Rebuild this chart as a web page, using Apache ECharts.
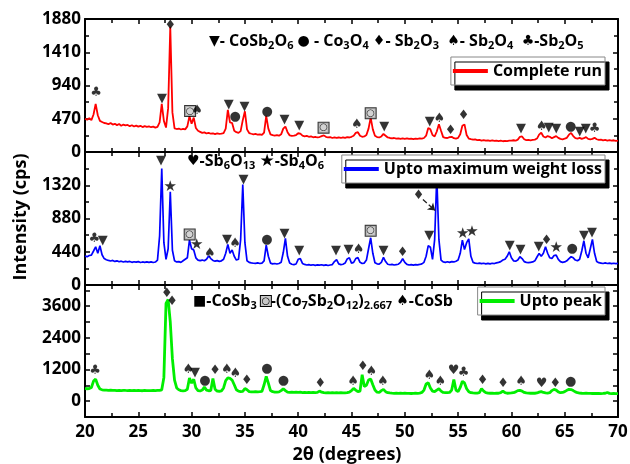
<!DOCTYPE html>
<html>
<head>
<meta charset="UTF-8">
<title>XRD patterns</title>
<script src="https://cdn.jsdelivr.net/npm/echarts@6/dist/echarts.min.js"></script>
<style>html,body{margin:0;padding:0;background:#fff;}</style>
</head>
<body>
<div id="main" style="width:630px;height:464px;"></div>
<script>
// 2theta sampling grid, 20 -> 70 deg every 0.2 deg
var twoTheta = [];
for (var i = 0; i <= 250; i++) twoTheta.push(+(20 + i * 0.2).toFixed(1));

// intensities (cps), one row = 2 degrees
var completeRun = [
  470, 455, 478, 450, 530, 680, 520, 440, 425, 410,
  405, 392, 410, 388, 398, 380, 395, 372, 388, 376,
  382, 365, 378, 360, 372, 358, 370, 352, 366, 355,
  362, 350, 358, 345, 356, 420, 680, 440, 345, 620,
  1770, 560, 335, 325, 332, 318, 328, 320, 362, 505,
  400, 486, 340, 300, 285, 270, 278, 262, 270, 258,
  265, 252, 262, 255, 260, 268, 330, 595, 420, 410,
  300, 280, 270, 295, 450, 575, 320, 268, 258, 250,
  255, 244, 250, 242, 275, 510, 330, 250, 238, 232,
  238, 230, 250, 330, 360, 280, 235, 228, 232, 240,
  265, 260, 232, 222, 228, 215, 220, 208, 215, 205,
  212, 225, 235, 215, 205, 212, 198, 208, 200, 205,
  198, 208, 200, 210, 205, 215, 230, 270, 280, 230,
  215, 220, 240, 330, 486, 320, 230, 212, 205, 220,
  255, 230, 205, 198, 192, 198, 188, 194, 185, 192,
  186, 192, 184, 190, 182, 190, 185, 192, 188, 198,
  230, 340, 320, 240, 220, 290, 392, 300, 210, 200,
  198, 210, 215, 195, 190, 200, 250, 370, 390, 240,
  190, 182, 175, 178, 168, 172, 162, 168, 160, 165,
  158, 164, 156, 162, 154, 160, 152, 158, 155, 162,
  160, 166, 160, 175, 215, 220, 180, 168, 172, 165,
  170, 175, 190, 245, 273, 220, 205, 225, 215, 195,
  210, 225, 200, 185, 180, 188, 200, 245, 270, 225,
  195, 190, 200, 185, 195, 210, 185, 178, 185, 200,
  180, 170, 175, 165, 170, 162, 168, 160, 166, 158,
  162
];
var maxWeightLoss = [
  383, 375, 390, 395, 450, 506, 420, 519, 400, 350,
  335, 325, 318, 325, 312, 320, 308, 315, 305, 312,
  306, 312, 300, 308, 302, 310, 298, 305, 300, 306,
  300, 306, 298, 304, 330, 650, 1541, 560, 340, 480,
  1233, 460, 320, 305, 310, 300, 320, 340, 360, 594,
  480, 462, 360, 330, 322, 330, 320, 340, 383, 350,
  325, 315, 322, 312, 320, 340, 420, 537, 420, 462,
  380, 330, 340, 600, 1330, 560, 320, 300, 292, 288,
  286, 292, 284, 290, 320, 528, 380, 290, 280, 285,
  278, 284, 300, 430, 617, 380, 290, 275, 270, 278,
  340, 350, 285, 272, 265, 270, 262, 268, 260, 266,
  262, 268, 260, 266, 258, 265, 270, 310, 335, 280,
  270, 275, 290, 345, 360, 290, 300, 350, 362, 300,
  285, 290, 330, 480, 625, 420, 295, 280, 275, 300,
  365, 310, 275, 268, 272, 265, 270, 275, 300, 348,
  300, 272, 265, 270, 264, 270, 266, 272, 280, 300,
  380, 520, 500, 340, 600, 1431, 600, 330, 305, 300,
  308, 300, 310, 305, 315, 330, 420, 594, 470, 560,
  610, 380, 300, 290, 285, 290, 282, 288, 280, 286,
  280, 288, 284, 292, 300, 310, 330, 340, 380, 440,
  360, 320, 315, 330, 374, 350, 310, 300, 295, 300,
  305, 320, 370, 418, 380, 420, 506, 420, 360, 350,
  390, 396, 340, 310, 300, 305, 320, 350, 374, 360,
  330, 320, 340, 450, 585, 420, 360, 480, 603, 420,
  310, 295, 290, 285, 292, 284, 290, 282, 288, 284,
  286
];
var uptoPeak = [
  483, 470, 478, 520, 760, 835, 600, 460, 430, 420,
  415, 408, 418, 405, 412, 400, 410, 402, 412, 405,
  400, 410, 402, 408, 398, 406, 400, 395, 404, 398,
  402, 396, 404, 398, 405, 410, 430, 900, 3700, 3850,
  3000, 1600, 800, 500, 430, 400, 392, 400, 450, 880,
  680, 830, 500, 400, 385, 420, 531, 420, 395, 400,
  854, 450, 380, 375, 390, 500, 780, 880, 860, 800,
  620, 430, 380, 365, 370, 480, 430, 360, 352, 348,
  360, 350, 358, 370, 620, 940, 680, 400, 360, 345,
  340, 352, 400, 472, 400, 345, 335, 342, 330, 338,
  330, 338, 326, 334, 324, 330, 320, 328, 322, 330,
  383, 340, 322, 316, 324, 315, 322, 314, 320, 312,
  318, 310, 316, 320, 340, 400, 483, 420, 360, 380,
  1003, 560, 600, 800, 843, 620, 420, 340, 330, 400,
  446, 360, 320, 310, 302, 298, 305, 296, 302, 294,
  300, 292, 298, 290, 296, 300, 294, 305, 330, 420,
  650, 694, 500, 380, 360, 420, 472, 380, 330, 320,
  325, 330, 420, 817, 420, 360, 520, 754, 690, 470,
  360, 320, 310, 302, 308, 320, 472, 380, 320, 305,
  300, 306, 298, 304, 300, 320, 383, 320, 300, 306,
  310, 320, 350, 400, 409, 380, 330, 310, 305, 300,
  305, 300, 310, 340, 360, 330, 310, 305, 320, 400,
  446, 420, 350, 320, 330, 360, 410, 446, 440, 400,
  350, 320, 305, 300, 296, 302, 294, 298, 290, 296,
  290, 296, 288, 292, 300, 330, 295, 286, 292, 288,
  286
];

// phase markers: [2theta, intensity, symbol]
var marks1 = [
  [21.03, 840, '♣'], [27.23, 760, '▼'], [28.0, 1785, '♦'], [29.86, 580, '◙'], [30.52, 580, '♠'],
  [33.49, 665, '▼'], [34.08, 495, '●'], [34.96, 637, '▼'], [37.09, 570, '●'], [38.72, 453, '▼'],
  [40.1, 378, '▼'], [42.38, 344, '◙'], [45.51, 382, '♠'], [46.8, 548, '◙'], [48.08, 358, '▼'],
  [52.33, 429, '▼'], [53.24, 477, '♠'], [54.3, 297, '♦'], [55.52, 510, '♦'], [60.9, 335, '▼'],
  [62.82, 358, '♠'], [63.5, 344, '▼'], [64.2, 335, '▼'], [65.57, 358, '●'], [66.4, 288, '▼'],
  [66.97, 335, '▼'], [67.8, 335, '♣']
];
var marks2 = [
  [20.87, 617, '♣'], [21.66, 585, '▼'], [27.12, 1651, '▼'], [28.0, 1290, '★'], [29.82, 669, '◙'],
  [30.49, 528, '★'], [31.7, 418, '♠'], [33.33, 603, '▼'], [34.08, 541, '♠'], [34.86, 1400, '▼'],
  [37.06, 603, '●'], [38.72, 682, '▼'], [40.1, 449, '▼'], [43.54, 449, '▼'], [44.72, 462, '▼'],
  [45.66, 462, '♠'], [46.8, 717, '◙'], [48.0, 453, '▼'], [49.8, 427, '♦'], [51.3, 1180, '♦'],
  [52.3, 660, '▼'], [55.43, 673, '★'], [56.3, 696, '★'], [59.85, 519, '▼'], [60.85, 471, '▼'],
  [62.57, 506, '▼'], [63.3, 585, '♦'], [64.2, 493, '★'], [65.7, 475, '●'], [66.8, 660, '▼'],
  [67.57, 691, '▼']
];
var marks3 = [
  [20.94, 1152, '♣'], [27.67, 4075, '♦'], [28.17, 3763, '♦'], [29.7, 1189, '♠'], [30.33, 1090, '▼'],
  [31.24, 780, '●'], [32.21, 1152, '♦'], [33.3, 1189, '♠'], [34.11, 1028, '♠'], [35.18, 780, '♦'],
  [37.06, 1251, '●'], [38.62, 780, '●'], [42.07, 656, '♦'], [45.14, 754, '♠'], [46.07, 1312, '♦'],
  [46.85, 1103, '♠'], [47.95, 730, '♠'], [52.3, 977, '♠'], [53.33, 730, '♠'], [54.58, 1152, '♥'],
  [55.52, 1066, '♣'], [57.3, 792, '♦'], [59.22, 669, '♦'], [60.9, 730, '♠'], [62.82, 656, '♥'],
  [64.13, 669, '♦'], [65.57, 730, '●']
];

var seriesNames = ['Complete run', 'Upto maximum weight loss', 'Upto peak'];
var seriesColors = ['#ff0000', '#0000ff', '#00ee00'];

var FONT = "'Open Sans', 'DejaVu Sans', sans-serif";
var chart = echarts.init(document.getElementById('main'));

var grids = [
  { left: 85, width: 533, top: 19, height: 133 },
  { left: 85, width: 533, top: 152, height: 133 },
  { left: 85, width: 533, top: 285, height: 132 }
];
var yRanges = [
  { min: 0, max: 1880, interval: 470, minor: true },
  { min: 0, max: 1760, interval: 440, minor: true },
  { min: -600, max: 4400, interval: 600, minor: false }
];
var yFormatters = [
  function (v) { return v; },
  function (v) { return v >= 1760 ? '' : v; },
  function (v) { return (v >= 0 && v <= 3600 && v % 1200 === 0) ? v : ''; }
];

var axisLine = { onZero: false, lineStyle: { color: '#000', width: 2 } };
var labelFont = { color: '#000', fontFamily: FONT, fontWeight: 'bold', fontSize: 17 };

var xAxes = [], yAxes = [];
grids.forEach(function (g, k) {
  g.outerBoundsMode = 'none';
  ['bottom', 'top'].forEach(function (pos) {
    xAxes.push({
      type: 'value', gridIndex: k, position: pos, min: 20, max: 70, interval: 5,
      axisLine: axisLine,
      axisTick: { inside: true, length: 5, lineStyle: { color: '#000', width: 1.5 } },
      minorTick: { show: true, splitNumber: 2, length: 4, lineStyle: { color: '#000', width: 1.5 } },
      splitLine: { show: false },
      axisLabel: Object.assign({ show: k === 2 && pos === 'bottom', margin: 7 }, labelFont)
    });
  });
  ['left', 'right'].forEach(function (pos) {
    var r = yRanges[k];
    yAxes.push({
      type: 'value', gridIndex: k, position: pos, min: r.min, max: r.max, interval: r.interval,
      axisLine: axisLine,
      axisTick: { inside: true, length: 5, lineStyle: { color: '#000', width: 1.5 } },
      minorTick: { show: r.minor, splitNumber: 2, length: 4, lineStyle: { color: '#000', width: 1.5 } },
      splitLine: { show: false },
      axisLabel: Object.assign({ show: pos === 'left', margin: 4, formatter: yFormatters[k] }, labelFont)
    });
  });
});

var curves = [completeRun, maxWeightLoss, uptoPeak];
var marks = [marks1, marks2, marks3];
var lineWidths = [1.8, 1.7, 2.8];
var series = [];
curves.forEach(function (c, k) {
  series.push({
    name: seriesNames[k], type: 'line', xAxisIndex: 2 * k, yAxisIndex: 2 * k,
    showSymbol: false, symbol: 'none', color: seriesColors[k],
    lineStyle: { width: lineWidths[k], color: seriesColors[k] },
    data: twoTheta.map(function (x, i) { return [x, c[i]]; }),
    markLine: k === 1 ? {
      silent: true, symbol: ['none', 'arrow'], symbolSize: 7,
      label: { show: false },
      lineStyle: { color: '#222', type: 'dashed', width: 1.3 },
      data: [[{ coord: [51.7, 1130] }, { coord: [52.85, 985] }]]
    } : undefined,
    z: 2
  });
  series.push({
    type: 'scatter', xAxisIndex: 2 * k, yAxisIndex: 2 * k,
    symbolSize: 1, itemStyle: { color: 'transparent' }, silent: true, z: 5,
    label: {
      show: true, position: 'inside', color: '#000', fontFamily: 'DejaVu Sans', fontSize: 13,
      formatter: function (p) {
        if (p.name === '◙') return '{q|○}';
        if (p.name === '★') return '{b|★}';
        return p.name;
      },
      rich: {
        q: { backgroundColor: '#c8c8c8', borderColor: '#000', borderWidth: 1, width: 10, height: 10,
             lineHeight: 10, align: 'center', fontSize: 10, fontWeight: 'bold', color: '#000',
             fontFamily: 'DejaVu Sans' },
        b: { fontSize: 15, fontFamily: 'DejaVu Sans', color: '#000' }
      }
    },
    data: marks[k].map(function (m) { return { name: m[2], value: [m[0], m[1]] }; })
  });
});

var legendBase = {
  orient: 'horizontal', icon: 'rect', itemWidth: 35, itemHeight: 4, selectedMode: false,
  right: 25, padding: [6, 3, 6, 2], backgroundColor: '#fff', borderColor: '#888', borderWidth: 1,
  shadowColor: '#000', shadowBlur: 0, shadowOffsetX: 4, shadowOffsetY: 5,
  textStyle: { color: '#000', fontFamily: FONT, fontWeight: 'bold', fontSize: 16 }
};
var legendTops = [57, 155, 287];
var legends = seriesNames.map(function (n, k) {
  return Object.assign({}, legendBase, { data: [n], top: legendTops[k] });
});

var rich = {
  t: { fontFamily: FONT, fontWeight: 'bold', fontSize: 16, color: '#000', lineHeight: 20 },
  s: { fontFamily: FONT, fontWeight: 'bold', fontSize: 11, color: '#000', lineHeight: 11, verticalAlign: 'bottom' },
  m: { fontFamily: 'DejaVu Sans', fontSize: 14, color: '#000', lineHeight: 20 },
  b: { fontFamily: 'DejaVu Sans', fontSize: 17, color: '#000', lineHeight: 20 },
  q: { backgroundColor: '#c8c8c8', borderColor: '#000', borderWidth: 1, width: 10, height: 10, lineHeight: 10,
       align: 'center', fontSize: 10, fontWeight: 'bold', color: '#000', fontFamily: 'DejaVu Sans' }
};
var note1 = '{m|▼}{t|- CoSb}{s|2}{t|O}{s|6}{t| }{m|●}{t| - Co}{s|3}{t|O}{s|4}{t| }{m|♦}{t|- Sb}{s|2}{t|O}{s|3}{t|  }{m|♠}{t|- Sb}{s|2}{t|O}{s|4}{t|  }{m|♣}{t|-Sb}{s|2}{t|O}{s|5}';
var note2 = '{m|♥}{t|-Sb}{s|6}{t|O}{s|13}{t| }{b|★}{t|-Sb}{s|4}{t|O}{s|6}';
var note3 = '{m|■}{t|-CoSb}{s|3}{t| }{q|○}{t|-(Co}{s|7}{t|Sb}{s|2}{t|O}{s|12}{t|)}{s|2.667}{t| }{m|♠}{t|-CoSb}';

var titleFont = { fill: '#000', fontFamily: FONT, fontWeight: 'bold', fontSize: 18 };

chart.setOption({
  animation: false,
  backgroundColor: '#fff',
  grid: grids,
  xAxis: xAxes,
  yAxis: yAxes,
  legend: legends,
  series: series,
  graphic: [
    { type: 'text', left: 209, top: 33, z: 10, style: { text: note1, rich: rich } },
    { type: 'text', left: 187, top: 153, z: 10, style: { text: note2, rich: rich } },
    { type: 'text', left: 193, top: 293, z: 10, style: { text: note3, rich: rich } },
    { type: 'text', x: 21, y: 217, rotation: Math.PI / 2, z: 10,
      style: Object.assign({ text: 'Intensity (cps)', align: 'center', verticalAlign: 'middle' }, titleFont) },
    { type: 'text', x: 347, y: 455, z: 10,
      style: Object.assign({ text: '2θ (degrees)', align: 'center', verticalAlign: 'middle' }, titleFont) }
  ]
});
</script>
</body>
</html>
